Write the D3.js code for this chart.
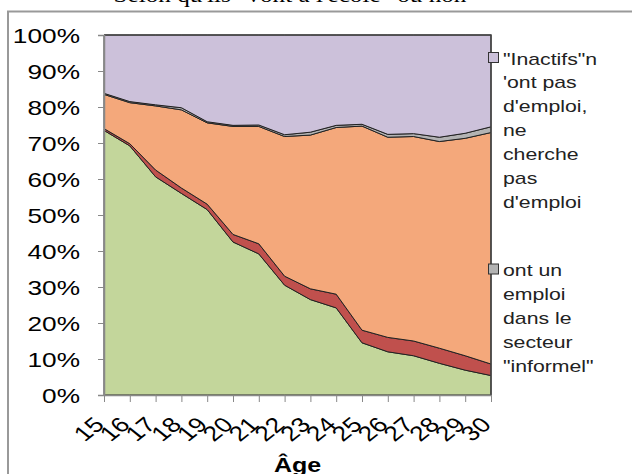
<!DOCTYPE html>
<html>
<head>
<meta charset="utf-8">
<script src="https://cdn.jsdelivr.net/npm/d3@7"></script>
<style>
  body { margin: 0; background: #fff; }
  text { font-family: "Liberation Sans", Arial, sans-serif; }
</style>
</head>
<body>
<script>
const width = 632,
    height = 474;

// ages on the x axis
const ages = ["15","16","17","18","19","20","21","22","23","24","25","26","27","28","29","30"];

// shares in % per age, bottom to top
const ecole = [73.5, 69.2, 60.6, 56, 51.5, 42.5, 39.2, 30.5, 26.5, 24.2, 14.5, 12, 10.9, 8.8, 6.9, 5.4];
const ecoleEmploi = [0.5, 0.6, 1.9, 1.5, 1.5, 2.1, 2.8, 2.5, 3, 3.8, 3.5, 4, 4.1, 4.2, 4, 3.2];
const emploiFormel = [9.5, 11.4, 17.8, 21.7, 22.6, 30, 32.6, 38.8, 42.7, 46.3, 56.7, 55.6, 56.8, 57.4, 60.4, 64.3];
const emploiInformel = [0.3, 0.3, 0.3, 0.6, 0.3, 0.3, 0.4, 0.5, 0.8, 0.6, 0.5, 0.8, 0.8, 1.2, 1.4, 1.6];
const inactifs = [16.2, 18.5, 19.4, 20.2, 24.1, 25.1, 25, 27.7, 27, 25.1, 24.8, 27.6, 27.4, 28.4, 27.3, 25.5];

const yTicks = [0, 10, 20, 30, 40, 50, 60, 70, 80, 90, 100];

const keys = ["ecole", "ecoleEmploi", "emploiFormel", "emploiInformel", "inactifs"];
const colors = {
    ecole: "#c3d69b",
    ecoleEmploi: "#c0504d",
    emploiFormel: "#f4a87b",
    emploiInformel: "#b3b3b3",
    inactifs: "#ccc1da"
};

const legendItems = [
    { key: "inactifs", lines: ["\"Inactifs\"n", "'ont pas", "d'emploi,", "ne", "cherche", "pas", "d'emploi"], y: 57.5 },
    { key: "emploiInformel", lines: ["ont un", "emploi", "dans le", "secteur", "\"informel\""], y: 269 }
];

const rows = ages.map((a, i) => ({
    age: a,
    ecole: ecole[i],
    ecoleEmploi: ecoleEmploi[i],
    emploiFormel: emploiFormel[i],
    emploiInformel: emploiInformel[i],
    inactifs: inactifs[i]
}));

const m = { left: 104, right: 491, top: 35, bottom: 395 };
const stretch = 1.25; // the original text is a bit wide

const svg = d3.select("body").append("svg")
    .attr("width", width)
    .attr("height", height);

// outer frame
svg.append("rect")
    .attr("x", 8).attr("y", 11.5)
    .attr("width", 700).attr("height", 600)
    .attr("fill", "none")
    .attr("stroke", "#999")
    .attr("stroke-width", 2);

// title (cut at the top)
svg.append("text")
    .attr("transform", "translate(290,2) scale(1.2,1)")
    .attr("text-anchor", "middle")
    .style("font-family", "'Liberation Serif', 'Times New Roman', serif")
    .style("font-size", "21px")
    .text("Selon qu'ils \"vont à l'école\" ou non");

const x = d3.scalePoint()
    .domain(ages)
    .range([m.left, m.right]);

const y = d3.scaleLinear()
    .domain([0, 100])
    .range([m.bottom, m.top]);

const stack = d3.stack().keys(keys);
const series = stack(rows);

const area = d3.area()
    .x(d => x(d.data.age))
    .y0(d => y(d[0]))
    .y1(d => y(d[1]));

const g = svg.append("g");

g.selectAll("path")
    .data(series)
    .enter()
    .append("path")
        .attr("fill", d => colors[d.key])
        .attr("stroke", "#222")
        .attr("stroke-width", 1)
        .attr("stroke-linejoin", "round")
        .attr("d", area);

// plot border top + right
svg.append("path")
    .attr("d", `M${m.left},${m.top}H${m.right}V${m.bottom}`)
    .attr("fill", "none")
    .attr("stroke", "#444")
    .attr("stroke-width", 1.5);

// y axis
const yAxis = svg.append("g")
    .attr("transform", `translate(${m.left},0)`)
    .call(d3.axisLeft(y).tickValues(yTicks).tickSize(6).tickFormat(d => d + "%"));
yAxis.select(".domain").attr("stroke", "#888").attr("stroke-width", 1.5);
yAxis.selectAll(".tick line").attr("stroke", "#888");
yAxis.selectAll("text")
    .style("font-size", "21px")
    .attr("fill", "#000")
    .attr("x", 0)
    .attr("dy", "0.36em")
    .attr("transform", `translate(-24,0) scale(${stretch},1)`);

// x axis
const xAxis = svg.append("g")
    .attr("transform", `translate(0,${m.bottom})`)
    .call(d3.axisBottom(x).tickSize(7).tickSizeOuter(0));
xAxis.select(".domain").attr("stroke", "#888").attr("stroke-width", 1.5);
xAxis.selectAll(".tick line").attr("stroke", "#888");
xAxis.selectAll("text")
    .style("font-size", "21px")
    .attr("fill", "#000")
    .attr("text-anchor", "end")
    .attr("x", 0).attr("y", 0).attr("dy", 0)
    .attr("transform", `translate(1,31) scale(${stretch},1) rotate(-45)`);

svg.append("text")
    .attr("transform", `translate(${(m.left + m.right) / 2},472) scale(${stretch},1)`)
    .attr("text-anchor", "middle")
    .style("font-size", "20px")
    .style("font-weight", "bold")
    .text("Âge");

// legend (the rest falls below the picture)
const legend = svg.append("g");
legendItems.forEach(item => {
    legend.append("rect")
        .attr("x", 488.5).attr("y", item.y - 5)
        .attr("width", 10).attr("height", 10)
        .attr("fill", colors[item.key])
        .attr("stroke", "#333")
        .attr("stroke-width", 1);
    const t = legend.append("text")
        .attr("transform", `translate(503,${item.y + 7}) scale(${stretch},1)`)
        .style("font-size", "17px")
        .attr("fill", "#222");
    item.lines.forEach((l, i) => {
        t.append("tspan")
            .attr("x", 0)
            .attr("dy", i === 0 ? 0 : 24)
            .text(l);
    });
});
</script>
</body>
</html>
